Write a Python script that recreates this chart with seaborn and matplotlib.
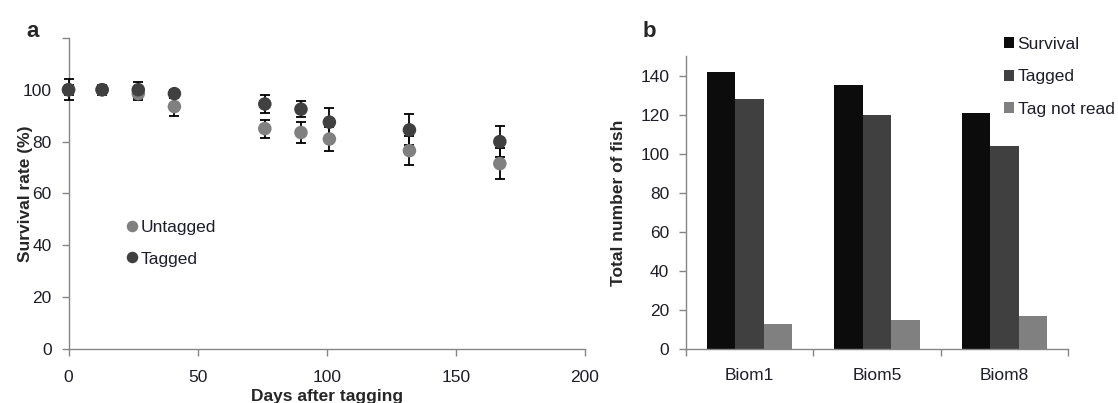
import pandas as pd
import matplotlib.pyplot as plt
import seaborn as sns

# panel a: survival over time
days = [0, 13, 27, 41, 76, 90, 101, 132, 167]
untagged = [100, 100, 98.5, 93.5, 85, 83.5, 81, 76.5, 71.5]
untagged_err = [2, 1.5, 2.5, 3.5, 3.5, 4, 4.5, 5.5, 6]
tagged = [100, 100, 100, 98.5, 94.5, 92.5, 87.5, 84.5, 80]
tagged_err = [4, 2, 3, 1.5, 3.5, 3, 5.5, 6, 6]

# panel b: fish counts per site
sites = ['Biom1', 'Biom5', 'Biom8']
survival = [142, 135, 121]
tagged_n = [128, 120, 104]
not_read = [13, 15, 17]

sns.set_style("ticks")
plt.rcParams['font.family'] = ['Liberation Sans', 'DejaVu Sans']
FS = 12.5
TXT = '#1e1e2a'
SPINE = '#868686'

fig = plt.figure(figsize=(11.18, 4.03), dpi=100)
ax1 = fig.add_axes([0.0613, 0.134, 0.4620, 0.772])
ax2 = fig.add_axes([0.6136, 0.134, 0.3417, 0.727])

# ---- panel a
df_a = pd.concat([
    pd.DataFrame({'day': days, 'rate': untagged, 'err': untagged_err, 'group': 'Untagged'}),
    pd.DataFrame({'day': days, 'rate': tagged, 'err': tagged_err, 'group': 'Tagged'}),
])
colors_a = {'Untagged': '#808080', 'Tagged': '#404040'}
for i, (g, sub) in enumerate(df_a.groupby('group', sort=False)):
    ax1.errorbar(sub['day'], sub['rate'], yerr=sub['err'], fmt='none', ecolor='black',
                 elinewidth=1.3, capsize=3.3, capthick=1.3, zorder=2 + 2 * i, clip_on=False)
sns.scatterplot(data=df_a, x='day', y='rate', hue='group', palette=colors_a, s=95,
                linewidth=0, ax=ax1, zorder=5, clip_on=False, legend=True)

ax1.set_xlim(0, 200)
ax1.set_ylim(0, 120)
ax1.set_xticks([0, 50, 100, 150, 200])
ax1.set_yticks([0, 20, 40, 60, 80, 100, 120])
ax1.set_yticklabels(['0', '20', '40', '60', '80', '100', ''])
ax1.set_xlabel('Days after tagging', fontsize=FS, fontweight='bold', labelpad=3)
ax1.set_ylabel('Survival rate (%)', fontsize=FS, fontweight='bold', labelpad=-7)
h, l = ax1.get_legend_handles_labels()
ax1.legend(h, l, loc='upper left', bbox_to_anchor=(0.106, 0.475), bbox_transform=fig.transFigure,
           frameon=False, fontsize=FS, handlelength=0.6, handletextpad=0.15,
           labelspacing=0.92, borderpad=0, markerscale=0.85)
for t in ax1.get_legend().get_texts():
    t.set_color(TXT)

# ---- panel b
df_b = pd.DataFrame({
    'site': sites * 3,
    'count': survival + tagged_n + not_read,
    'kind': ['Survival'] * 3 + ['Tagged'] * 3 + ['Tag not read'] * 3,
})
colors_b = {'Survival': '#0b0c0b', 'Tagged': '#404040', 'Tag not read': '#808080'}
sns.barplot(data=df_b, x='site', y='count', hue='kind', palette=colors_b, width=0.67,
            linewidth=0, saturation=1, ax=ax2)
ax2.set_ylim(0, 150)
ax2.set_yticks(range(0, 141, 20))
ax2.set_xlim(-0.5, 2.5)
ax2.set_xticks([-0.5, 0.5, 1.5, 2.5])
ax2.set_xticklabels([])
ax2.set_xticks([0, 1, 2], minor=True)
ax2.set_xticklabels(sites, minor=True)
ax2.tick_params(axis='x', which='minor', length=0, pad=14)
ax2.set_xlabel('')
ax2.set_ylabel('Total number of fish', fontsize=FS, fontweight='bold', labelpad=10)
h, l = ax2.get_legend_handles_labels()
ax2.legend(h, l, loc='upper left', bbox_to_anchor=(0.890, 0.93), bbox_transform=fig.transFigure,
           frameon=False, fontsize=FS, handlelength=0.6, handleheight=0.6, handletextpad=0.2,
           labelspacing=1.0, borderpad=0)
for t in ax2.get_legend().get_texts():
    t.set_color(TXT)

for ax in (ax1, ax2):
    sns.despine(ax=ax)
    for s in ('left', 'bottom'):
        ax.spines[s].set_color(SPINE)
        ax.spines[s].set_linewidth(1.0)
    ax.tick_params(which='both', colors=SPINE, labelcolor=TXT, labelsize=FS)
    ax.tick_params(which='major', length=5, width=1.0)
    ax.tick_params(axis='y', pad=7)
ax1.tick_params(axis='x', which='major', pad=10)

fig.text(0.024, 0.908, 'a', fontsize=16, fontweight='bold')
fig.text(0.575, 0.908, 'b', fontsize=16, fontweight='bold')

fig.savefig('out.png', dpi=100)
plt.close()
